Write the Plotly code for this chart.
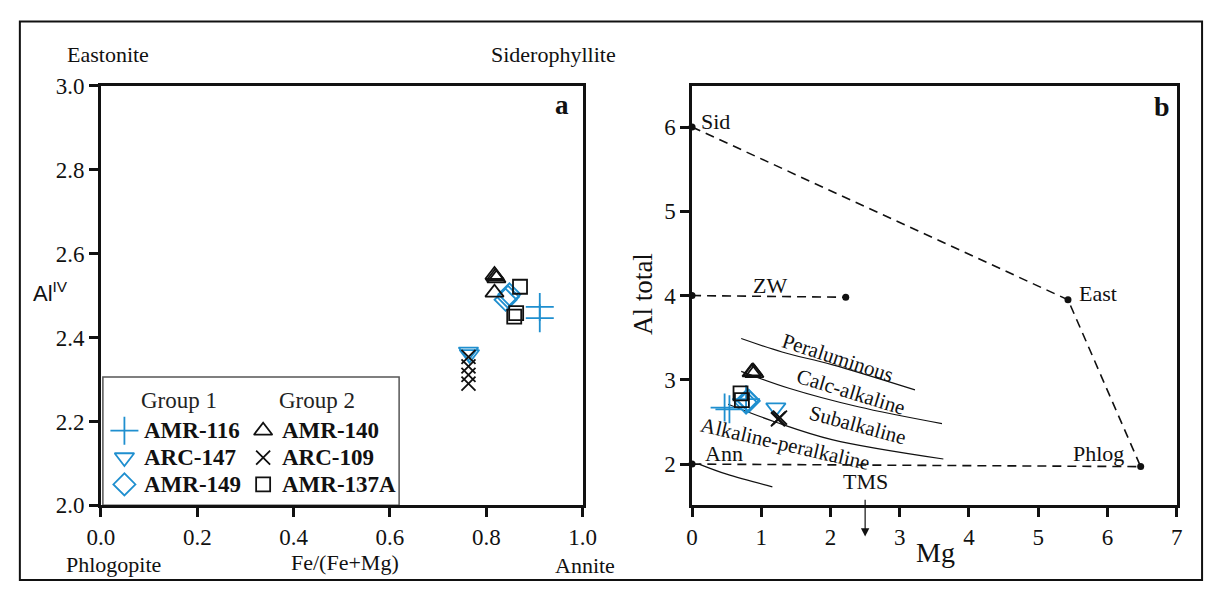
import plotly.graph_objects as go

BLUE = "#1f8fcf"
BLACK = "#111111"
SERIF = "Liberation Serif"

# ---------------- Panel a data: Fe/(Fe+Mg) vs Al(IV) ----------------
a_amr116_x = [0.911, 0.911]
a_amr116_y = [2.473, 2.446]
a_arc147_x = [0.763, 0.765]
a_arc147_y = [2.366, 2.360]
a_amr149_x = [0.848, 0.840, 0.845]
a_amr149_y = [2.503, 2.490, 2.497]
a_amr140_x = [0.817, 0.819, 0.821, 0.817]
a_amr140_y = [2.549, 2.545, 2.541, 2.507]
a_arc109_x = [0.763, 0.763, 0.763, 0.763]
a_arc109_y = [2.354, 2.331, 2.311, 2.290]
a_amr137a_x = [0.870, 0.862, 0.858]
a_amr137a_y = [2.521, 2.458, 2.450]

# ---------------- Panel b data: Mg vs Al total ----------------
b_amr116_x = [0.47, 0.54, 0.78]
b_amr116_y = [2.67, 2.65, 2.77]
b_arc147_x = [1.21]
b_arc147_y = [2.67]
b_amr149_x = [0.82, 0.78, 0.80]
b_amr149_y = [2.75, 2.73, 2.76]
b_amr140_x = [0.86, 0.88, 0.90]
b_amr140_y = [3.09, 3.10, 3.08]
b_arc109_x = [1.24, 1.27, 1.25]
b_arc109_y = [2.53, 2.55, 2.54]
b_amr137a_x = [0.70, 0.72]
b_amr137a_y = [2.84, 2.76]

# reference end-members (panel b)
outline_x = [0.0, 5.43, 6.48, 0.0]
outline_y = [6.0, 3.95, 1.97, 2.0]
zw_x = [0.0, 2.22]
zw_y = [4.0, 3.98]
dot_x = [0.0, 5.43, 6.48, 0.0, 0.0, 2.22]
dot_y = [6.0, 3.95, 1.97, 2.0, 4.0, 3.98]

# field boundaries (panel b)
bnd1_x = [0.71, 1.30, 2.02, 3.22]
bnd1_y = [3.49, 3.33, 3.18, 2.88]
bnd2_x = [0.71, 1.40, 2.40, 3.61]
bnd2_y = [3.10, 2.90, 2.68, 2.48]
bnd3_x = [0.52, 1.20, 2.02, 3.63]
bnd3_y = [2.71, 2.50, 2.29, 2.06]
ann_x = [0.10, 0.50, 1.16]
ann_y = [2.00, 1.88, 1.73]

# TMS label position and arrow head (panel b, head lies below the axis)
tms_label = (2.50, 1.79)
tms_head = (2.50, 1.14)

a_xticks = [0.0, 0.2, 0.4, 0.6, 0.8, 1.0]
a_yticks = [2.0, 2.2, 2.4, 2.6, 2.8, 3.0]
b_xticks = [0, 1, 2, 3, 4, 5, 6, 7]
b_yticks = [2, 3, 4, 5, 6]

W, H = 1219, 595
def px(x):
    return x / W
def py(y):
    return 1 - y / H

series = [
    ("AMR-116", "cross-thin-open", BLUE, 20),
    ("ARC-147", "triangle-down-open", BLUE, 17),
    ("AMR-149", "diamond-open", BLUE, 17),
    ("AMR-140", "triangle-up-open", BLACK, 16),
    ("ARC-109", "x-thin-open", BLACK, 14),
    ("AMR-137A", "square-open", BLACK, 14),
]
a_data = [(a_amr116_x, a_amr116_y), (a_arc147_x, a_arc147_y), (a_amr149_x, a_amr149_y),
          (a_amr140_x, a_amr140_y), (a_arc109_x, a_arc109_y), (a_amr137a_x, a_amr137a_y)]
b_data = [(b_amr116_x, b_amr116_y), (b_arc147_x, b_arc147_y), (b_amr149_x, b_amr149_y),
          (b_amr140_x, b_amr140_y), (b_arc109_x, b_arc109_y), (b_amr137a_x, b_amr137a_y)]

fig = go.Figure()

# panel b lines first
line_style = dict(color=BLACK, width=1.6, dash="9px,6px")
fig.add_trace(go.Scatter(x=outline_x, y=outline_y, mode="lines", line=line_style,
                         xaxis="x2", yaxis="y2", showlegend=False, hoverinfo="skip"))
fig.add_trace(go.Scatter(x=zw_x, y=zw_y, mode="lines", line=line_style,
                         xaxis="x2", yaxis="y2", showlegend=False, hoverinfo="skip"))
for bx, by in [(bnd1_x, bnd1_y), (bnd2_x, bnd2_y), (bnd3_x, bnd3_y), (ann_x, ann_y)]:
    fig.add_trace(go.Scatter(x=bx, y=by, mode="lines", line=dict(color=BLACK, width=1.2, shape="spline"),
                             xaxis="x2", yaxis="y2", showlegend=False, hoverinfo="skip"))
fig.add_trace(go.Scatter(x=dot_x, y=dot_y, mode="markers", marker=dict(color=BLACK, size=7),
                         xaxis="x2", yaxis="y2", showlegend=False, cliponaxis=False, hoverinfo="skip"))

# data series
for (name, sym, col, sz), (ax_, ay_), (bx_, by_) in zip(series, a_data, b_data):
    mk = dict(symbol=sym, color=col, size=sz, line=dict(color=col, width=1.8))
    fig.add_trace(go.Scatter(x=ax_, y=ay_, mode="markers", marker=mk, name=name,
                             xaxis="x", yaxis="y", showlegend=False, cliponaxis=False))
    fig.add_trace(go.Scatter(x=bx_, y=by_, mode="markers", marker=mk, name=name,
                             xaxis="x2", yaxis="y2", showlegend=False, cliponaxis=False))

# manual legend in panel a
leg_sym_x = [0.0487, 0.3367]
leg_txt_x = [0.0852, 0.3712]
leg_row_y = [2.178, 2.114, 2.050]
annotations = []
for i, (name, sym, col, sz) in enumerate(series):
    c = i // 3
    r = i % 3
    fig.add_trace(go.Scatter(x=[leg_sym_x[c]], y=[leg_row_y[r]], mode="markers",
                             marker=dict(symbol=sym, color=col, size=sz, line=dict(color=col, width=1.8)),
                             xaxis="x", yaxis="y", showlegend=False, hoverinfo="skip"))
    annotations.append(dict(x=leg_txt_x[c], y=leg_row_y[r], xref="x", yref="y", text="<b>%s</b>" % name,
                            showarrow=False, xanchor="left", yanchor="middle",
                            font=dict(family=SERIF, size=23, color=BLACK)))
annotations.append(dict(x=0.162, y=2.251, xref="x", yref="y", text="Group 1", showarrow=False,
                        font=dict(family=SERIF, size=23, color="#222")))
annotations.append(dict(x=0.448, y=2.251, xref="x", yref="y", text="Group 2", showarrow=False,
                        font=dict(family=SERIF, size=23, color="#222")))

def txt(x, y, s, size=20, xref="paper", yref="paper", xanchor="center", angle=0, family=SERIF, bold=False):
    annotations.append(dict(x=x, y=y, xref=xref, yref=yref, text=("<b>%s</b>" % s) if bold else s,
                            showarrow=False, xanchor=xanchor, yanchor="middle", textangle=angle,
                            font=dict(family=family, size=size, color=BLACK)))

# panel a labels
txt(px(52), py(44), "Eastonite", 22, xanchor="left")
txt(px(552), py(44), "Siderophyllite", 22)
txt(px(51), py(577), "Phlogopite", 22, xanchor="left")
txt(px(339), py(575), "Fe/(Fe+Mg)", 22)
txt(px(584), py(578), "Annite", 22)
txt(px(37), py(292), "Al<sup>IV</sup>", 22, family="Liberation Sans")
txt(px(561), py(97), "a", 27, bold=True)

# panel b labels
txt(px(1175), py(99), "b", 28, bold=True)
txt(px(943), py(564), "Mg", 28)
txt(px(643), py(294), "Al total", 27, angle=-90)
txt(0.10, 6.06, "Sid", 22, xref="x2", yref="y2", xanchor="left")
txt(1.13, 4.12, "ZW", 22, xref="x2", yref="y2")
txt(5.86, 4.02, "East", 22, xref="x2", yref="y2")
txt(5.87, 2.13, "Phlog", 22, xref="x2", yref="y2")
txt(0.46, 2.12, "Ann", 22, xref="x2", yref="y2")
txt(2.11, 3.26, "Peraluminous", 21, xref="x2", yref="y2", angle=18)
txt(2.30, 2.86, "Calc-alkaline", 21, xref="x2", yref="y2", angle=17)
txt(2.39, 2.46, "Subalkaline", 21, xref="x2", yref="y2", angle=15)
txt(1.35, 2.24, "Alkaline-peralkaline", 21, xref="x2", yref="y2", angle=13)

# TMS label with its arrow pointing down through the axis
annotations.append(dict(x=tms_head[0], y=tms_head[1], xref="x2", yref="y2",
                        ax=tms_label[0], ay=tms_label[1], axref="x2", ayref="y2",
                        text="TMS", showarrow=True, arrowhead=2, arrowsize=1.4, arrowwidth=1.2,
                        arrowcolor=BLACK, standoff=0, startstandoff=4,
                        font=dict(family=SERIF, size=22, color=BLACK)))

shapes = [
    dict(type="rect", xref="x", yref="y", x0=0.004, x1=0.619, y0=2.0, y1=2.306,
         line=dict(color="#555", width=1.5), fillcolor="rgba(0,0,0,0)", layer="below"),
    dict(type="rect", xref="paper", yref="paper", x0=px(6), x1=px(1216), y0=py(593), y1=py(10),
         line=dict(color=BLACK, width=2)),
]

axis_common = dict(showgrid=False, zeroline=False, ticks="outside", ticklen=9, tickwidth=2.5,
                   tickcolor=BLACK, linecolor=BLACK, linewidth=2.5, mirror=True, showline=True,
                   tickfont=dict(family=SERIF, size=23, color=BLACK))

fig.update_layout(
    width=W, height=H, margin=dict(l=0, r=0, t=0, b=0),
    font=dict(family=SERIF, color=BLACK),
    paper_bgcolor="white", plot_bgcolor="white", showlegend=False,
    xaxis=dict(domain=[px(89), px(582)], range=[0, 1], tickvals=a_xticks,
               ticktext=["%.1f" % v for v in a_xticks], anchor="y", **axis_common),
    yaxis=dict(domain=[py(515), py(77)], range=[2.0, 3.0], tickvals=a_yticks,
               ticktext=["%.1f" % v for v in a_yticks], anchor="x", **axis_common),
    xaxis2=dict(domain=[px(694), px(1190)], range=[0, 7], tickvals=b_xticks,
                ticktext=[str(v) for v in b_xticks], anchor="y2", **axis_common),
    yaxis2=dict(domain=[py(515), py(77)], range=[1.51, 6.49], tickvals=b_yticks,
                ticktext=[str(v) for v in b_yticks], anchor="x2", **axis_common),
    annotations=annotations, shapes=shapes,
)

fig.write_html("out.html")
